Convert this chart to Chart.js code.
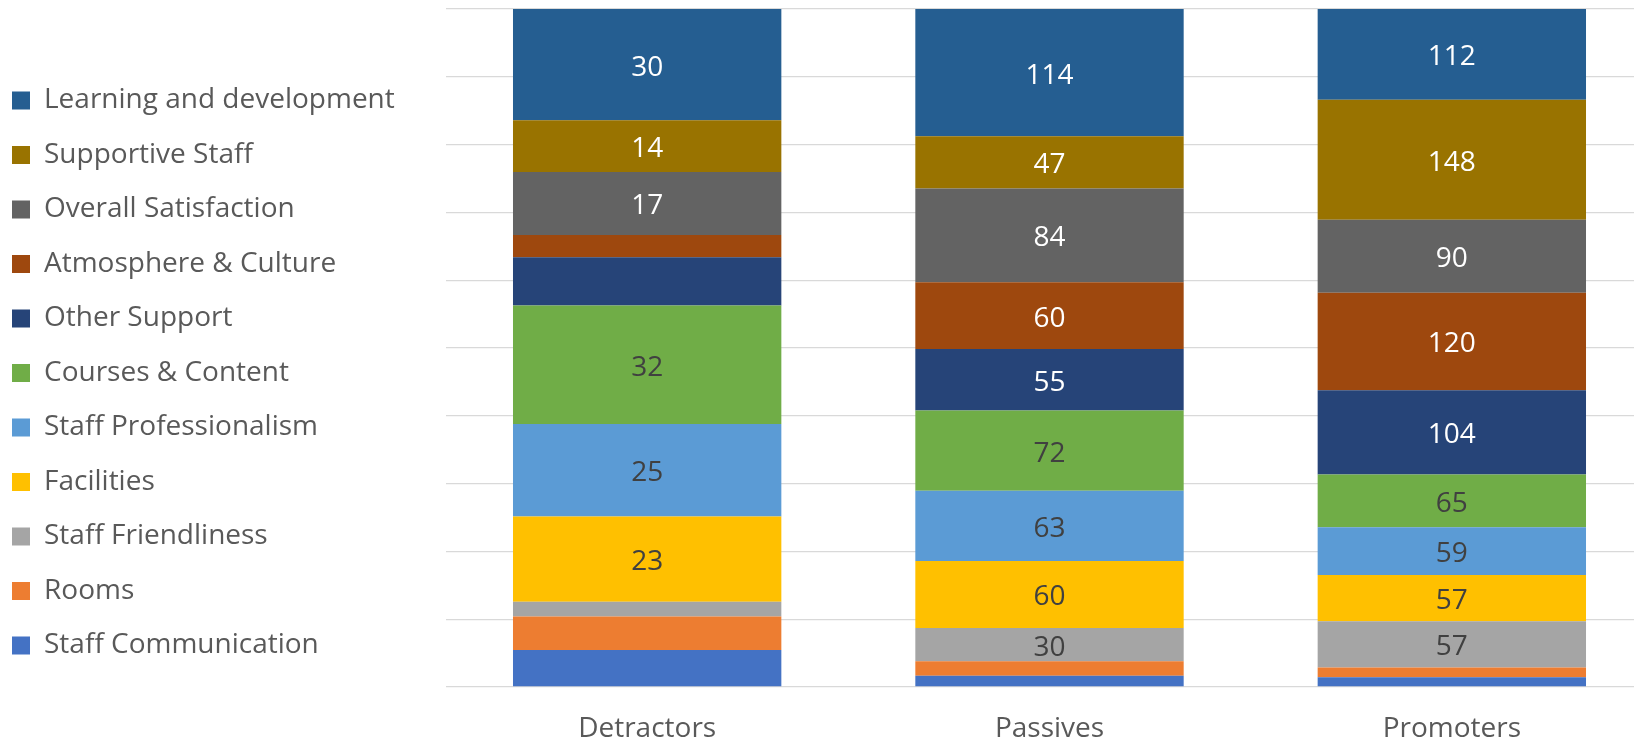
<!DOCTYPE html>
<html>
<head>
<meta charset="utf-8">
<script src="https://cdn.jsdelivr.net/npm/chart.js@4.4.1/dist/chart.umd.min.js"></script>
<style>
  html, body { margin: 0; padding: 0; background: #fff; overflow: hidden; }
  /* plot area runs a little past the right edge of the window, as in the original */
  #wrap { width: 1653px; height: 741px; }
</style>
</head>
<body>
<div id="wrap"><canvas id="chart"></canvas></div>
<script>
const categories = ["Detractors", "Passives", "Promoters"];

// series, bottom of the stack first
const seriesNames = [
  "Staff Communication", "Rooms", "Staff Friendliness", "Facilities",
  "Staff Professionalism", "Courses & Content", "Other Support",
  "Atmosphere & Culture", "Overall Satisfaction", "Supportive Staff",
  "Learning and development"
];
const staffCommunication   = [10, 10, 12];
const rooms                = [9, 13, 12];
const staffFriendliness    = [4, 30, 57];
const facilities           = [23, 60, 57];
const staffProfessionalism = [25, 63, 59];
const coursesContent       = [32, 72, 65];
const otherSupport         = [13, 55, 104];
const atmosphereCulture    = [6, 60, 120];
const overallSatisfaction  = [17, 84, 90];
const supportiveStaff      = [14, 47, 148];
const learningDevelopment  = [30, 114, 112];

const seriesValues = [
  staffCommunication, rooms, staffFriendliness, facilities,
  staffProfessionalism, coursesContent, otherSupport,
  atmosphereCulture, overallSatisfaction, supportiveStaff,
  learningDevelopment
];
const seriesColors = [
  "#4472C4", "#ED7D31", "#A5A5A5", "#FFC000", "#5B9BD5", "#70AD47",
  "#264478", "#9E480E", "#636363", "#997300", "#255E91"
];
const labelColors = [
  "#404040", "#404040", "#404040", "#404040", "#404040", "#404040",
  "#FFFFFF", "#FFFFFF", "#FFFFFF", "#FFFFFF", "#FFFFFF"
];

const FONT = "'Open Sans', sans-serif";
const FONT_SIZE = 28;
const TEXT = "#595959";
const MIN_LABEL = 14;

// 100% stacked: share of each column total
const totals = categories.map((c, i) =>
  seriesValues.reduce((s, arr) => s + arr[i], 0));

const datasets = seriesNames.map((name, k) => ({
  label: name,
  data: seriesValues[k].map((v, i) => v / totals[i] * 100),
  raw: seriesValues[k],
  backgroundColor: seriesColors[k],
  borderWidth: 0,
  barPercentage: 0.667,
  categoryPercentage: 1.0
}));

const segmentLabels = {
  id: "segmentLabels",
  afterDatasetsDraw(chart) {
    const ctx = chart.ctx;
    ctx.save();
    ctx.font = FONT_SIZE + "px " + FONT;
    ctx.textAlign = "center";
    ctx.textBaseline = "middle";
    chart.data.datasets.forEach((ds, k) => {
      const meta = chart.getDatasetMeta(k);
      meta.data.forEach((bar, i) => {
        const v = ds.raw[i];
        if (v < MIN_LABEL) return;
        ctx.fillStyle = labelColors[k];
        // Open Sans sits a bit high on "middle"
        ctx.fillText(String(v), bar.x, (bar.y + bar.base) / 2 + 3);
      });
    });
    ctx.restore();
  }
};

// legend items sit near the left edge although their padding is large
const legendNudge = {
  id: "legendNudge",
  afterLayout(chart) {
    const lg = chart.legend;
    lg.left = 12 - lg.options.labels.padding;
    lg.top = 5;
  }
};

new Chart("chart", {
  type: "bar",
  data: { labels: categories, datasets: datasets },
  plugins: [segmentLabels, legendNudge],
  options: {
    responsive: true,
    maintainAspectRatio: false,
    animation: false,
    layout: { padding: { top: 9, right: 0, bottom: 0, left: 0 } },
    plugins: {
      legend: {
        position: "left",
        align: "center",
        reverse: true,
        labels: {
          boxWidth: 18,
          boxHeight: 18,
          padding: 26.5,
          color: TEXT,
          font: { family: FONT, size: FONT_SIZE }
        }
      },
      tooltip: { enabled: false }
    },
    scales: {
      x: {
        stacked: true,
        grid: { display: false },
        border: { display: false },
        afterFit(scale) { scale.height = 54; },
        ticks: { color: TEXT, font: { family: FONT, size: FONT_SIZE }, padding: 17 }
      },
      y: {
        stacked: true,
        min: 0,
        max: 100,
        afterFit(scale) {
          scale.width = Math.max(0, 446 - scale.chart.legend.width);
        },
        ticks: { display: false, stepSize: 10 },
        grid: { color: "#D9D9D9", lineWidth: 1.3, drawTicks: false },
        border: { display: false }
      }
    }
  }
});
</script>
</body>
</html>
